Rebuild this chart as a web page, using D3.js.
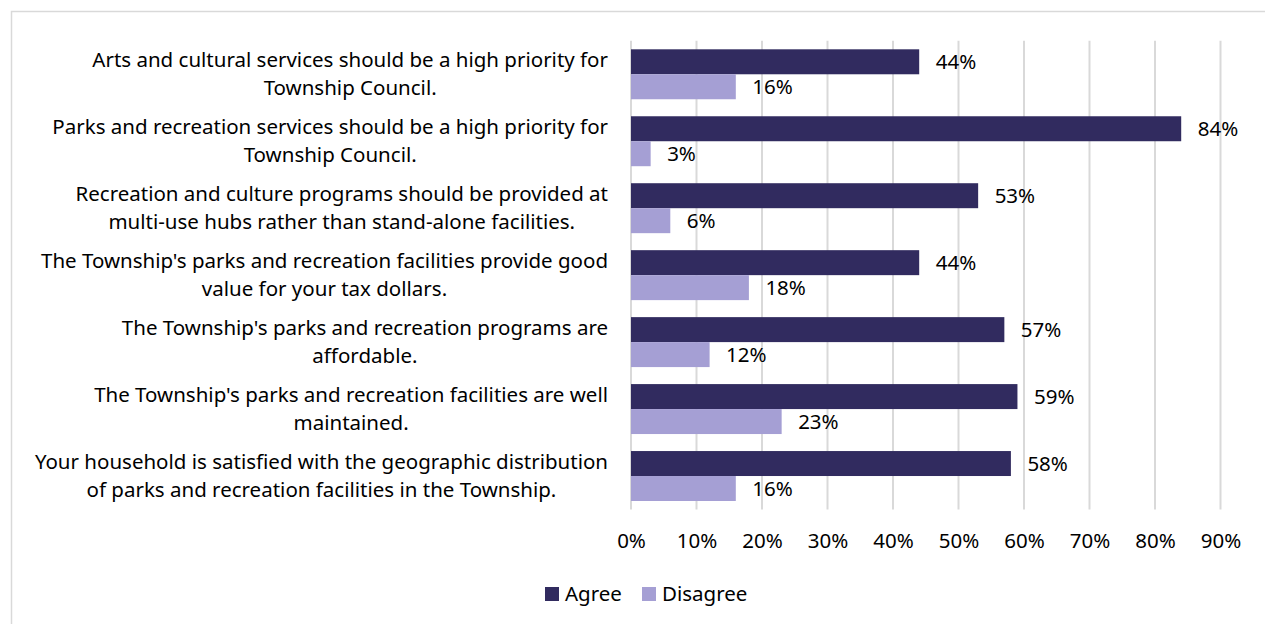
<!DOCTYPE html>
<html>
<head>
<meta charset="utf-8">
<script src="https://cdn.jsdelivr.net/npm/d3@7"></script>
<style>
  html, body { margin: 0; padding: 0; background: #fff; }
  svg { display: block; }
  text { font-family: "Noto Sans", "Open Sans", sans-serif; fill: #000; }
</style>
</head>
<body>
<svg id="chart" width="1265" height="624"></svg>
<script>
// Survey statements (each wrapped onto two lines)
const statements = [
  ["Arts and cultural services should be a high priority for", "Township Council."],
  ["Parks and recreation services should be a high priority for", "Township Council."],
  ["Recreation and culture programs should be provided at", "multi-use hubs rather than stand-alone facilities."],
  ["The Township's parks and recreation facilities provide good", "value for your tax dollars."],
  ["The Township's parks and recreation programs are", "affordable."],
  ["The Township's parks and recreation facilities are well", "maintained."],
  ["Your household is satisfied with the geographic distribution", "of parks and recreation facilities in the Township."]
];
const agree    = [44, 84, 53, 44, 57, 59, 58];
const disagree = [16, 3, 6, 18, 12, 23, 16];
const seriesNames = ["Agree", "Disagree"];
const seriesColors = ["#312b5f", "#a59fd4"];
const tickValues = [0, 10, 20, 30, 40, 50, 60, 70, 80, 90];

const FS = "20.5px";
const svg = d3.select("#chart");

// outer frame
svg.append("rect")
  .attr("x", 11.5).attr("y", 11.5)
  .attr("width", 1265).attr("height", 640)
  .attr("fill", "none").attr("stroke", "#d9d9d9").attr("stroke-width", 1.5);

const plot = { left: 631, right: 1220.5, top: 40.8, bottom: 509.5 };

const x = d3.scaleLinear().domain([0, 90]).range([plot.left, plot.right]);
const y = d3.scaleBand()
  .domain(d3.range(statements.length))
  .range([plot.top, plot.bottom])
  .paddingInner(0.254)
  .paddingOuter(0.127);
const sub = d3.scaleBand().domain([0, 1]).range([0, y.bandwidth()]);

// vertical gridlines
svg.append("g").selectAll("line")
  .data(tickValues)
  .join("line")
  .attr("x1", d => x(d)).attr("x2", d => x(d))
  .attr("y1", plot.top).attr("y2", plot.bottom)
  .attr("stroke", "#d9d9d9").attr("stroke-width", 2);

// tick labels
const axis = d3.axisBottom(x).tickValues(tickValues).tickFormat(d => d + "%").tickSize(0).tickPadding(0);
const ax = svg.append("g").attr("transform", `translate(0,${plot.bottom})`).call(axis);
ax.select(".domain").remove();
ax.selectAll("text")
  .attr("y", 31).attr("dy", "0.35em")
  .style("font-size", FS).style("font-family", "'Noto Sans', 'Open Sans', sans-serif").attr("fill", "#000");

// bars
const rows = statements.map((s, i) => ({ i, values: [agree[i], disagree[i]] }));
const groups = svg.append("g").selectAll("g")
  .data(rows)
  .join("g")
  .attr("transform", d => `translate(0,${y(d.i)})`);

groups.selectAll("rect")
  .data(d => d.values.map((v, k) => ({ v, k })))
  .join("rect")
  .attr("x", x(0))
  .attr("y", d => sub(d.k))
  .attr("width", d => x(d.v) - x(0))
  .attr("height", sub.bandwidth())
  .attr("fill", d => seriesColors[d.k]);

// value labels
groups.selectAll("text.val")
  .data(d => d.values.map((v, k) => ({ v, k })))
  .join("text")
  .attr("class", "val")
  .attr("x", d => x(d.v) + 16.5)
  .attr("y", d => sub(d.k) + sub.bandwidth() / 2)
  .attr("dy", "0.35em")
  .style("font-size", FS)
  .text(d => d.v + "%");

// category labels, two centred lines right-aligned as a block
const labelRight = 608;
const lab = svg.append("g").selectAll("text")
  .data(statements)
  .join("text")
  .style("font-size", FS)
  .attr("text-anchor", "middle");
lab.each(function(lines, i) {
  const t = d3.select(this);
  const cy = y(i) + y.bandwidth() / 2;
  lines.forEach((ln, j) => {
    t.append("tspan").attr("y", cy + (j === 0 ? -14 : 14)).attr("dy", "0.35em").text(ln);
  });
  // block width = widest line
  const w = d3.max(t.selectAll("tspan").nodes(), n => n.getComputedTextLength());
  t.selectAll("tspan").attr("x", labelRight - w / 2);
});

// legend
const legend = svg.append("g");
const legX = [545, 642];
seriesNames.forEach((name, k) => {
  legend.append("rect")
    .attr("x", legX[k]).attr("y", 587)
    .attr("width", 14).attr("height", 14)
    .attr("fill", seriesColors[k]);
  legend.append("text")
    .attr("x", legX[k] + 20).attr("y", 594).attr("dy", "0.35em")
    .style("font-size", FS)
    .text(name);
});
</script>
</body>
</html>
